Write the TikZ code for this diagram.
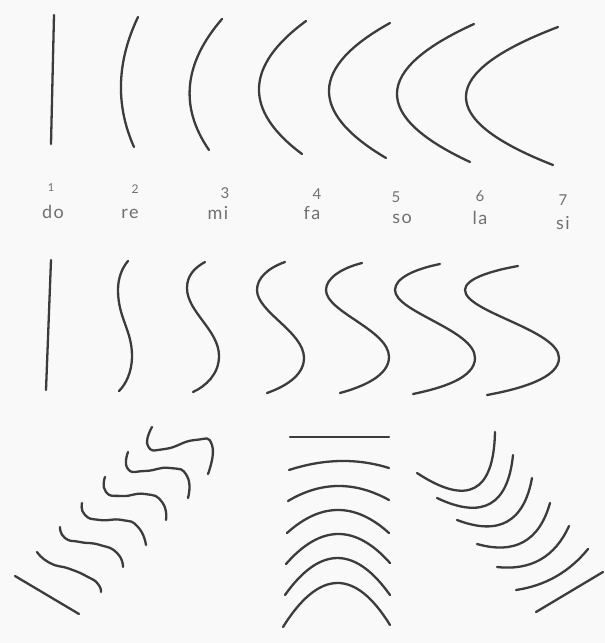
\documentclass[tikz,border=0pt]{standalone}
\usepackage{fontspec}
\setmainfont{Lato}
\newfontfamily\labelfont[LetterSpace=8]{Lato}

\definecolor{ink}{HTML}{3C3C3C}
\definecolor{labelgray}{HTML}{707070}
\definecolor{paper}{HTML}{F9F9F9}

\begin{document}
\begin{tikzpicture}[x=1pt, y=-1pt,
    stroke/.style={draw=ink, line width=2.3pt, line cap=round},
    num/.style={text=labelgray, font=\labelfont\fontsize{15}{15}\selectfont, inner sep=0pt, anchor=base},
    syl/.style={text=labelgray, font=\labelfont\fontsize{18}{18}\selectfont, inner sep=0pt, anchor=base}]

    % Paper
    \fill[paper] (0,0) rectangle (605,643);
    \useasboundingbox (0,0) rectangle (605,643);

    % Top row: arcs
    \draw[stroke] (54,15) -- (51,144);
    \draw[stroke] (138,17) .. controls (116.7,61.7) and (115.3,105) .. (134,147);
    \draw[stroke] (222,19) .. controls (183.7,63.3) and (179.3,107) .. (209,150);
    \draw[stroke] (306,21) .. controls (244.7,66) and (243.3,110.3) .. (302,154);
    \draw[stroke] (390,23) .. controls (310,67.3) and (308.7,112.3) .. (386,158);
    \draw[stroke] (474,24) .. controls (372.7,70) and (371.3,116) .. (470,162);
    \draw[stroke] (558,27) .. controls (437,73) and (435.3,119) .. (553,165);

    % Numbers
    \node[num, font=\labelfont\fontsize{11}{11}\selectfont] (n1) at (51,191) {1};
    \node[num, font=\labelfont\fontsize{12}{12}\selectfont] (n2) at (135,193) {2};
    \node[num] (n3) at (225,198) {3};
    \node[num] (n4) at (317,199) {4};
    \node[num] (n5) at (396,202) {5};
    \node[num] (n6) at (480,201) {6};
    \node[num] (n7) at (563,205) {7};

    % Syllables
    \node[syl] (do) at (53,218) {do};
    \node[syl] (re) at (130,218) {re};
    \node[syl] (mi) at (218,219) {mi};
    \node[syl] (fa) at (312,219) {fa};
    \node[syl] (so) at (402,223) {so};
    \node[syl] (la) at (480,224) {la};
    \node[syl] (si) at (563,229) {si};

    % Second row: S curves
    \draw[stroke] (51,260) -- (46,390);
    \draw[stroke] (128,261) .. controls (122,268) and (118,278) .. (118,290)
        .. controls (118,318) and (132,330) .. (132,356)
        .. controls (132,372) and (126,384) .. (119,391);
    \draw[stroke] (205,262) .. controls (194,268) and (187,276) .. (187,288)
        .. controls (187,312) and (219,330) .. (219,356)
        .. controls (219,374) and (206,386) .. (193,392);
    \draw[stroke] (285,262) .. controls (268,268) and (257,278) .. (257,290)
        .. controls (257,312) and (304,332) .. (304,358)
        .. controls (304,376) and (284,387) .. (267,393);
    \draw[stroke] (362,263) .. controls (342,268) and (326,278) .. (326,290)
        .. controls (326,312) and (389,330) .. (389,357)
        .. controls (389,376) and (362,387) .. (340,393);
    \draw[stroke] (440,264) .. controls (415,269) and (395,278) .. (395,290)
        .. controls (395,312) and (475,330) .. (475,358)
        .. controls (475,378) and (442,388) .. (413,394);
    \draw[stroke] (518,266) .. controls (490,271) and (465,279) .. (465,290)
        .. controls (465,312) and (559,330) .. (559,358)
        .. controls (559,378) and (520,389) .. (487,395);

    % Bottom left: waves
    \draw[stroke] (15,576) -- (79,614);
    \draw[stroke] plot[smooth, tension=1] coordinates {(37,552) (50,563) (70,569) (88,577) (98,584) (101,592)};
    \draw[stroke] plot[smooth, tension=1] coordinates {(60,527) (65,538) (80,542) (100,545) (117,553) (123,567)};
    \draw[stroke] plot[smooth, tension=1] coordinates {(82,503) (85,515) (100,520) (122,520) (138,527) (146,545)};
    \draw[stroke] plot[smooth, tension=1] coordinates {(105,477) (106,492) (122,496) (145,494) (162,502) (166,520)};
    \draw[stroke] plot[smooth, tension=1] coordinates {(128,452) (128,469) (145,471) (170,468) (187,476) (188,498)};
    \draw[stroke] plot[smooth, tension=1] coordinates {(152,427) (148,446) (165,449) (195,440) (212,445) (208,474)};

    % Bottom middle: arcs
    \draw[stroke] (290,437) -- (389,437);
    \draw[stroke] (289,470) .. controls (323.7,458.7) and (357,458) .. (389,468);
    \draw[stroke] (288,501) .. controls (321,481.3) and (354.7,481) .. (389,500);
    \draw[stroke] (287,533) .. controls (321,502.3) and (355,502.3) .. (389,533);
    \draw[stroke] (286,564) .. controls (320.7,524.3) and (355.3,524) .. (390,563);
    \draw[stroke] (285,595) .. controls (320,545.7) and (355,545.7) .. (390,595);
    \draw[stroke] (283,627) .. controls (319.3,569) and (355,568.3) .. (390,625);

    % Bottom right: arcs
    \draw[stroke] (417,473) .. controls (467.7,506.3) and (493.7,492.7) .. (495,432);
    \draw[stroke] (437,498) .. controls (482.7,519.7) and (508,505.3) .. (513,455);
    \draw[stroke] (457,520) .. controls (499,536) and (524,522) .. (532,478);
    \draw[stroke] (477,544) .. controls (515,554.7) and (539.3,541) .. (550,503);
    \draw[stroke] (497,567) .. controls (531,570.7) and (555,557) .. (569,526);
    \draw[stroke] (516,590) .. controls (545.3,585.7) and (569.3,572) .. (588,549);
    \draw[stroke] (536,612) -- (603,572);

\end{tikzpicture}
\end{document}
